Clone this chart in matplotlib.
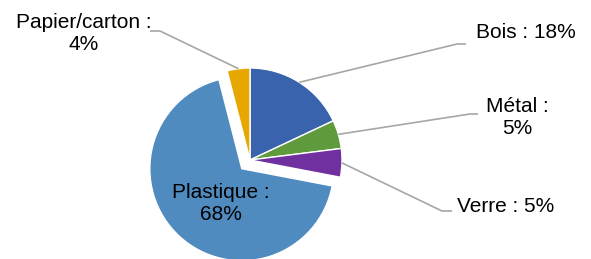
import numpy as np
import matplotlib
matplotlib.use("Agg")
import matplotlib.pyplot as plt

categories = ["Bois", "Métal", "Verre", "Plastique", "Papier/carton"]
values = [18, 5, 5, 68, 4]
labels = ["Bois : 18%", "Métal :\n5%", "Verre : 5%", "Plastique :\n68%", "Papier/carton :\n4%"]
colors = ["#3a63ad", "#5f9a3d", "#7030a0", "#4f8bbf", "#e6a800"]
explode_frac = [0, 0, 0, 0.13, 0]

W, H = 591, 259
fig = plt.figure(figsize=(W / 100, H / 100), dpi=100)
ax = fig.add_axes([0, 0, 1, 1])

cx, cy, r = 250, H - 160, 92
wedges, _ = ax.pie(values, colors=colors, startangle=90, counterclock=False,
                   explode=[e * r for e in explode_frac], center=(cx, cy), radius=r, frame=True,
                   wedgeprops=dict(edgecolor="white", linewidth=1))
ax.set_xlim(0, W)
ax.set_ylim(0, H)
ax.set_aspect("equal")
ax.axis("off")

font = dict(family="Liberation Sans", fontsize=15, color="#000000")
lc = "#a6a6a6"

outside = {
    0: ((457, 44), (466, 44), (476, 33), "left"),
    1: ((470, 114), (478, 114), (517, 117), "center"),
    2: ((442, 211), (452, 211), (457, 206), "left"),
    4: ((160, 31), (150, 31), (84, 34), "center"),
}
for i, (elbow, end, tpos, ha) in outside.items():
    w = wedges[i]
    mid = np.deg2rad((w.theta1 + w.theta2) / 2)
    sx, sy = w.center[0] + r * np.cos(mid), w.center[1] + r * np.sin(mid)
    ax.plot([sx, elbow[0], end[0]], [sy, H - elbow[1], H - end[1]], color=lc, lw=1.2,
            solid_capstyle="butt", solid_joinstyle="miter")
    ax.text(tpos[0], H - tpos[1], labels[i], ha=ha, va="center", linespacing=1.2, **font)

ax.text(221, H - 203, labels[3], ha="center", va="center", linespacing=1.2, **font)

fig.savefig("out.png", dpi=100)
